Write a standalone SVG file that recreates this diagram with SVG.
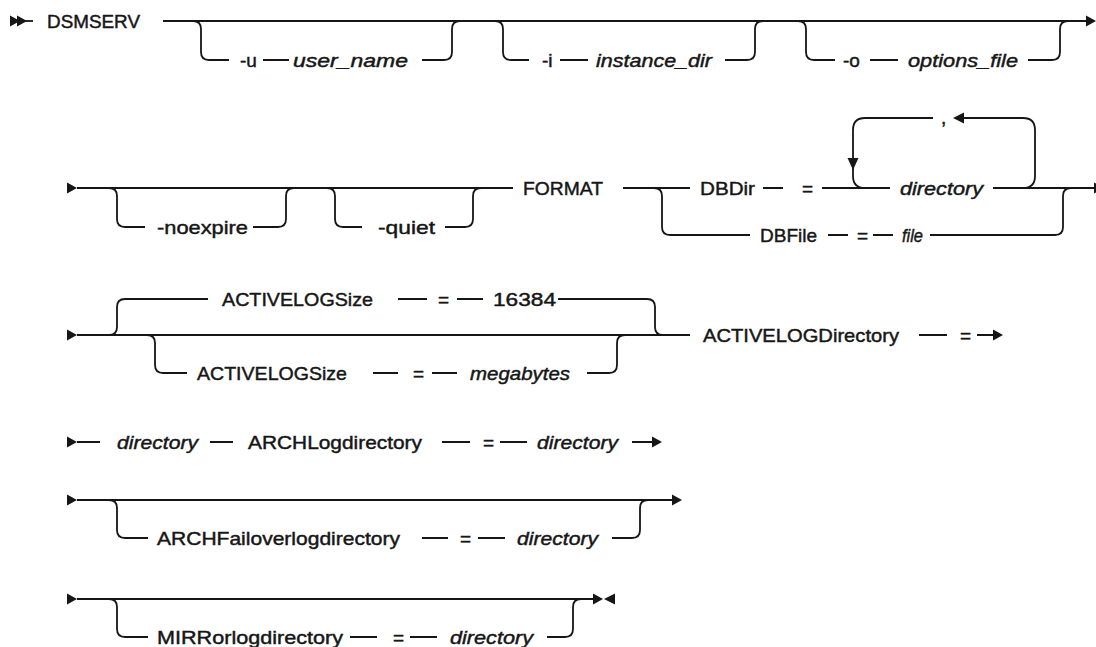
<svg xmlns="http://www.w3.org/2000/svg" width="1096" height="647" viewBox="0 0 1096 647">
<style>
.ln{fill:none;stroke:#161616;stroke-width:1.8}
.ah{fill:#161616;stroke:none}
text{font-family:"Liberation Sans",Arial,sans-serif;font-size:19px;fill:#161616;stroke:#161616;stroke-width:0.45}
.v{font-style:italic}
</style>
<defs>
<path id="tri" d="M0,-5.5 L10,0 L0,5.5 Z"/>
</defs>
<rect width="1096" height="647" fill="#ffffff"/>
<g id="connectors">
<!-- row 1 -->
<use href="#tri" class="ah" x="10" y="21"/>
<use href="#tri" class="ah" x="17" y="21"/>
<path class="ln" d="M25 21 H33"/>
<path class="ln" d="M163 21 H1088"/>
<use href="#tri" class="ah" x="1086" y="21"/>
<path class="ln" d="M193 21 Q201 21 201 29 V52 Q201 60 209 60 H229 M263 60 H289 M422 60 H444 Q452 60 452 52 V29 Q452 21 460 21"/>
<path class="ln" d="M495 21 Q503 21 503 29 V52 Q503 60 511 60 H529 M560 60 H588 M725 60 H747 Q755 60 755 52 V29 Q755 21 763 21"/>
<path class="ln" d="M798 21 Q806 21 806 29 V52 Q806 60 814 60 H835 M870 60 H898 M1028 60 H1052 Q1060 60 1060 52 V29 Q1060 21 1068 21"/>
<!-- row 2 -->
<use href="#tri" class="ah" x="67" y="188"/>
<path class="ln" d="M77 188 H513 M623 188 H690 M763 188 H783 M822 188 H890 M993 188 H1096"/>
<use href="#tri" class="ah" x="1094" y="188"/>
<path class="ln" d="M109 188 Q117 188 117 196 V219 Q117 227 125 227 H145 M253 227 H278 Q286 227 286 219 V196 Q286 188 294 188"/>
<path class="ln" d="M327 188 Q335 188 335 196 V219 Q335 227 343 227 H362 M445 227 H465 Q473 227 473 219 V196 Q473 188 481 188"/>
<path class="ln" d="M654 188 Q662 188 662 196 V227 Q662 235 670 235 H750 M828 235 H848 M873 235 H893 M930 235 H1055 Q1063 235 1063 227 V196 Q1063 188 1071 188"/>
<path class="ln" d="M871 188 H865 Q853 188 853 176 V130 Q853 118 865 118 H933 M963 118 H1023 Q1035 118 1035 130 V176 Q1035 188 1023 188"/>
<polygon class="ah" points="953,118 964,112.5 964,123.5"/>
<polygon class="ah" points="847.5,158 858.5,158 853,170"/>
<!-- row 3 -->
<use href="#tri" class="ah" x="67" y="335"/>
<path class="ln" d="M77 335 H690 M919 335 H947 M977 335 H995"/>
<use href="#tri" class="ah" x="993" y="335"/>
<path class="ln" d="M109 335 Q117 335 117 327 V307 Q117 299 125 299 H208 M398 299 H427 M457 299 H483 M558 299 H647 Q655 299 655 307 V327 Q655 335 663 335"/>
<path class="ln" d="M147 335 Q155 335 155 343 V365 Q155 373 163 373 H187 M373 373 H398 M432 373 H457 M587 373 H609 Q617 373 617 365 V343 Q617 335 625 335"/>
<!-- row 4 -->
<use href="#tri" class="ah" x="67" y="442"/>
<path class="ln" d="M77 442 H100 M210 442 H233 M442 442 H470 M500 442 H527 M632 442 H652"/>
<use href="#tri" class="ah" x="652" y="442"/>
<!-- row 5 -->
<use href="#tri" class="ah" x="67" y="500"/>
<path class="ln" d="M77 500 H672"/>
<use href="#tri" class="ah" x="672" y="500"/>
<path class="ln" d="M109 500 Q117 500 117 508 V530 Q117 538 125 538 H148 M422 538 H448 M478 538 H505 M612 538 H632 Q640 538 640 530 V508 Q640 500 648 500"/>
<!-- row 6 -->
<use href="#tri" class="ah" x="67" y="599"/>
<path class="ln" d="M77 599 H594"/>
<use href="#tri" class="ah" x="593" y="599"/>
<polygon class="ah" points="615,593.5 615,604.5 604,599"/>
<path class="ln" d="M109 599 Q117 599 117 607 V629 Q117 637 125 637 H148 M350 637 H377 M410 637 H437 M547 637 H565 Q573 637 573 629 V607 Q573 599 581 599"/>
</g>
<!-- row 1 nodes -->
<g id="dsmserv"><text x="47" y="28" textLength="93" lengthAdjust="spacingAndGlyphs">DSMSERV</text></g>
<g id="opt-u"><text x="240" y="67">-u</text></g>
<g id="user-name"><text class="v" x="293" y="67" textLength="115" lengthAdjust="spacingAndGlyphs">user_name</text></g>
<g id="opt-i"><text x="542" y="67">-i</text></g>
<g id="instance-dir"><text class="v" x="596" y="67" textLength="116" lengthAdjust="spacingAndGlyphs">instance_dir</text></g>
<g id="opt-o"><text x="843" y="67">-o</text></g>
<g id="options-file"><text class="v" x="908" y="67" textLength="110" lengthAdjust="spacingAndGlyphs">options_file</text></g>
<!-- row 2 nodes -->
<g id="noexpire"><text x="157" y="234" textLength="91" lengthAdjust="spacingAndGlyphs">-noexpire</text></g>
<g id="quiet"><text x="378" y="234" textLength="57" lengthAdjust="spacingAndGlyphs">-quiet</text></g>
<g id="format"><text x="523" y="195" textLength="80" lengthAdjust="spacingAndGlyphs">FORMAT</text></g>
<g id="dbdir"><text x="700" y="195" textLength="55" lengthAdjust="spacingAndGlyphs">DBDir</text></g>
<g id="dbdir-eq"><text x="802" y="195">=</text></g>
<g id="dbdir-directory"><text class="v" x="900" y="195" textLength="83" lengthAdjust="spacingAndGlyphs">directory</text></g>
<g id="comma"><text x="941" y="124">,</text></g>
<g id="dbfile"><text x="760" y="242" textLength="57" lengthAdjust="spacingAndGlyphs">DBFile</text></g>
<g id="dbfile-eq"><text x="857" y="242">=</text></g>
<g id="file"><text class="v" x="902" y="242" textLength="21" lengthAdjust="spacingAndGlyphs">file</text></g>
<!-- row 3 nodes -->
<g id="als-default"><text x="222" y="306" textLength="151" lengthAdjust="spacingAndGlyphs">ACTIVELOGSize</text></g>
<g id="als-default-eq"><text x="438" y="306">=</text></g>
<g id="als-16384"><text x="493" y="306" textLength="63" lengthAdjust="spacingAndGlyphs">16384</text></g>
<g id="als"><text x="197" y="380" textLength="150" lengthAdjust="spacingAndGlyphs">ACTIVELOGSize</text></g>
<g id="als-eq"><text x="413" y="380">=</text></g>
<g id="megabytes"><text class="v" x="470" y="380" textLength="100" lengthAdjust="spacingAndGlyphs">megabytes</text></g>
<g id="activelogdirectory"><text x="703" y="342" textLength="196" lengthAdjust="spacingAndGlyphs">ACTIVELOGDirectory</text></g>
<g id="ald-eq"><text x="960" y="342">=</text></g>
<!-- row 4 nodes -->
<g id="ald-directory"><text class="v" x="117" y="449" textLength="81" lengthAdjust="spacingAndGlyphs">directory</text></g>
<g id="archlogdirectory"><text x="248" y="449" textLength="174" lengthAdjust="spacingAndGlyphs">ARCHLogdirectory</text></g>
<g id="arch-eq"><text x="483" y="449">=</text></g>
<g id="arch-directory"><text class="v" x="537" y="449" textLength="81" lengthAdjust="spacingAndGlyphs">directory</text></g>
<!-- row 5 nodes -->
<g id="archfailover"><text x="157" y="545" textLength="243" lengthAdjust="spacingAndGlyphs">ARCHFailoverlogdirectory</text></g>
<g id="archfailover-eq"><text x="460" y="545">=</text></g>
<g id="archfailover-directory"><text class="v" x="517" y="545" textLength="81" lengthAdjust="spacingAndGlyphs">directory</text></g>
<!-- row 6 nodes -->
<g id="mirror"><text x="157" y="644" textLength="186" lengthAdjust="spacingAndGlyphs">MIRRorlogdirectory</text></g>
<g id="mirror-eq"><text x="393" y="644">=</text></g>
<g id="mirror-directory"><text class="v" x="450" y="644" textLength="83" lengthAdjust="spacingAndGlyphs">directory</text></g>
</svg>
